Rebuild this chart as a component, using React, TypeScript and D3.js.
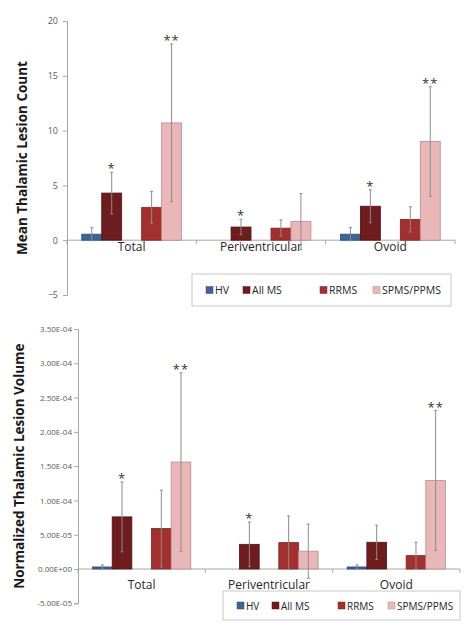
import { useEffect, useRef } from 'react';
import * as d3 from 'd3';

const categories = ['Total', 'Periventricular', 'Ovoid'];
const seriesNames = ['HV', 'All MS', 'RRMS', 'SPMS/PPMS'];
const seriesColors = ['#3d6596', '#6e1c1e', '#a3302f', '#e9b7b8'];
const seriesStrokes = ['#2e4d73', '#531315', '#7d2424', '#b98c8d'];

// lesion counts: mean and +/- error per series, in category order
const countHV = [0.55, 0, 0.55];
const countAllMS = [4.3, 1.2, 3.1];
const countRRMS = [3.0, 1.1, 1.9];
const countSPMS = [10.7, 1.7, 9.0];
const countErrHV = [0.6, 0, 0.6];
const countErrAllMS = [1.9, 0.7, 1.5];
const countErrRRMS = [1.45, 0.75, 1.15];
const countErrSPMS = [7.2, 2.55, 5.0];
const countStars = [['', '*', '', '**'], ['', '*', '', ''], ['', '*', '', '**']];
const countTicks = [-5, 0, 5, 10, 15, 20];

// normalized lesion volume
const volHV = [3e-6, 0, 3e-6];
const volAllMS = [7.6e-5, 3.6e-5, 3.9e-5];
const volRRMS = [5.9e-5, 3.85e-5, 1.95e-5];
const volSPMS = [1.56e-4, 2.6e-5, 1.29e-4];
const volErrHV = [3e-6, 0, 3e-6];
const volErrAllMS = [5.1e-5, 3.25e-5, 2.5e-5];
const volErrRRMS = [5.6e-5, 3.9e-5, 1.95e-5];
const volErrSPMS = [1.3e-4, 3.95e-5, 1.02e-4];
const volStars = [['', '*', '', '**'], ['', '*', '', ''], ['', '', '', '**']];
const volTicks = [-5e-5, 0, 5e-5, 1e-4, 1.5e-4, 2e-4, 2.5e-4, 3e-4, 3.5e-4];

const FONT = '"Open Sans", "Liberation Sans", sans-serif';

const sciFormat = (v: number) =>
  v.toExponential(2).toUpperCase().replace(/E([+-])(\d)$/, 'E$10$2');

function drawPanel(root: any, cfg: any) {
  const { x0, x1, yTop, yBottom, ticks, fmt, means, errs, stars, title, titleX,
    tickGap, tickSize, catY, legend } = cfg;
  const g = root.append('g');

  const y = d3.scaleLinear().domain([ticks[0], ticks[ticks.length - 1]]).range([yBottom, yTop]);
  const x = d3.scaleBand().domain(categories).range([x0, x1]).padding(0);
  const slots = ['HV', 'All MS', 'gap', 'RRMS', 'SPMS/PPMS'];
  const sub = d3.scaleBand().domain(slots).range([0, x.bandwidth()])
    .paddingInner(0).paddingOuter(0.74);

  // y axis
  const yAxis = g.append('g').attr('transform', `translate(${x0},0)`)
    .call(d3.axisLeft(y).tickValues(ticks).tickSize(4).tickPadding(tickGap).tickFormat(fmt));
  yAxis.select('.domain').attr('stroke', '#a6a6a6');
  yAxis.selectAll('.tick line').attr('stroke', '#a6a6a6');
  yAxis.selectAll('text').attr('fill', '#595959').style('font-family', FONT)
    .style('font-size', `${tickSize}px`);

  // category axis at zero
  const zeroY = y(0);
  g.append('line').attr('x1', x0).attr('x2', x1).attr('y1', zeroY).attr('y2', zeroY)
    .attr('stroke', '#a6a6a6');
  const bounds = [x0, ...categories.map(c => (x(c) as number) + x.bandwidth())];
  g.selectAll('.ctick').data(bounds).enter().append('line')
    .attr('x1', d => d).attr('x2', d => d).attr('y1', zeroY).attr('y2', zeroY + 4)
    .attr('stroke', '#a6a6a6');
  g.selectAll('.clabel').data(categories).enter().append('text')
    .attr('x', d => (x(d) as number) + x.bandwidth() / 2).attr('y', catY)
    .attr('text-anchor', 'middle').attr('fill', '#262626')
    .style('font-family', FONT).style('font-size', '12px').text(d => d);

  const rows: any[] = [];
  categories.forEach((c, ci) => {
    seriesNames.forEach((s, si) => {
      rows.push({
        cx: (x(c) as number) + (sub(s) as number),
        v: means[si][ci], e: errs[si][ci], star: stars[ci][si], si,
      });
    });
  });

  const bw = sub.bandwidth();
  g.selectAll('.bar').data(rows.filter(d => d.v !== 0)).enter().append('rect')
    .attr('x', d => d.cx).attr('width', bw)
    .attr('y', d => y(Math.max(0, d.v))).attr('height', d => Math.abs(y(d.v) - zeroY))
    .attr('fill', d => seriesColors[d.si]).attr('stroke', d => seriesStrokes[d.si])
    .attr('stroke-width', 0.8);

  const errRows = rows.filter(d => d.e > 0);
  const eg = g.selectAll('.err').data(errRows).enter().append('g').attr('stroke', '#8c8c8c');
  eg.append('line').attr('x1', d => d.cx + bw / 2).attr('x2', d => d.cx + bw / 2)
    .attr('y1', d => y(d.v + d.e)).attr('y2', d => y(d.v - d.e));
  eg.append('line').attr('x1', d => d.cx + bw / 2 - 1.5).attr('x2', d => d.cx + bw / 2 + 1.5)
    .attr('y1', d => y(d.v + d.e)).attr('y2', d => y(d.v + d.e));
  eg.append('line').attr('x1', d => d.cx + bw / 2 - 1.5).attr('x2', d => d.cx + bw / 2 + 1.5)
    .attr('y1', d => y(d.v - d.e)).attr('y2', d => y(d.v - d.e));

  g.selectAll('.star').data(rows.filter(d => d.star)).enter().append('text')
    .attr('x', d => d.cx + bw / 2).attr('y', d => y(d.v + d.e) + 1)
    .attr('text-anchor', 'middle').attr('fill', '#333')
    .style('font-family', FONT).style('font-size', '13px').style('letter-spacing', '1px')
    .text(d => d.star);

  // title
  const midY = (yTop + yBottom) / 2;
  g.append('text').attr('transform', `translate(${titleX},${midY}) rotate(-90)`)
    .attr('text-anchor', 'middle').attr('dominant-baseline', 'middle')
    .attr('fill', '#1a1a1a').style('font-family', FONT).style('font-weight', 'bold')
    .style('font-size', '13.5px').text(title);

  // legend
  const lg = g.append('g');
  lg.append('rect').attr('x', legend.x).attr('y', legend.y).attr('width', legend.w)
    .attr('height', legend.h).attr('fill', '#fff').attr('stroke', '#c8c8c8');
  seriesNames.forEach((s, i) => {
    const lx = legend.items[i];
    const cy = legend.y + legend.h / 2;
    lg.append('rect').attr('x', lx).attr('y', cy - 3.5).attr('width', 7).attr('height', 7)
      .attr('fill', seriesColors[i]).attr('stroke', seriesStrokes[i]).attr('stroke-width', 0.5);
    lg.append('text').attr('x', lx + 9).attr('y', cy).attr('dominant-baseline', 'central')
      .attr('fill', '#262626').style('font-family', FONT)
      .style('font-size', `${legend.font}px`).text(s);
  });
}

export default function App() {
  const ref = useRef<SVGSVGElement>(null);

  useEffect(() => {
    const svg = d3.select(ref.current);
    svg.selectAll('*').remove();
    svg.append('rect').attr('width', 474).attr('height', 638).attr('fill', '#fff');

    drawPanel(svg, {
      x0: 67, x1: 455, yTop: 21, yBottom: 295,
      ticks: countTicks, fmt: d3.format('d'), tickGap: 5, tickSize: 9,
      means: [countHV, countAllMS, countRRMS, countSPMS],
      errs: [countErrHV, countErrAllMS, countErrRRMS, countErrSPMS],
      stars: countStars, title: 'Mean Thalamic Lesion Count', titleX: 23, catY: 251,
      legend: { x: 192, y: 274, w: 259, h: 32, font: 10.5, items: [206, 243, 320, 373] },
    });

    drawPanel(svg, {
      x0: 78, x1: 460, yTop: 329, yBottom: 603.3,
      ticks: volTicks, fmt: sciFormat, tickGap: 2, tickSize: 8,
      means: [volHV, volAllMS, volRRMS, volSPMS],
      errs: [volErrHV, volErrAllMS, volErrRRMS, volErrSPMS],
      stars: volStars, title: 'Normalized Thalamic Lesion Volume', titleX: 20, catY: 589,
      legend: { x: 223, y: 591, w: 237, h: 29, font: 10, items: [237, 272, 338, 388] },
    });
  }, []);

  return (
    <svg ref={ref} width={474} height={638}
      style={{ position: 'absolute', left: 0, top: 0, display: 'block' }} />
  );
}
